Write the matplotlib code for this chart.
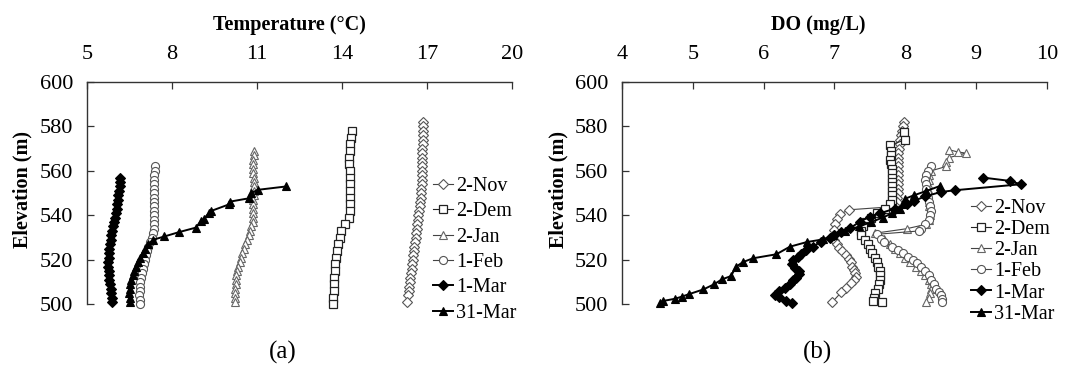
import matplotlib.pyplot as plt
from matplotlib.lines import Line2D

plt.rcParams['font.family'] = ['Liberation Serif', 'DejaVu Serif']

# ---- panel (a): temperature profiles (elevation m, temperature degC) ----
nov_t_elev = [582, 580, 578, 576, 574, 572, 570, 568, 566, 564, 562, 560, 558, 556,
              554, 552, 550, 548, 546, 544, 542, 540, 538, 536, 534, 532, 530, 528,
              526, 524, 522, 520, 518, 516, 514, 512, 510, 508, 506, 504, 501]
nov_temp = [16.88, 16.87, 16.86, 16.86, 16.85, 16.85, 16.84, 16.84, 16.84, 16.83, 16.83,
            16.83, 16.82, 16.82, 16.82, 16.81, 16.80, 16.79, 16.77, 16.75, 16.72, 16.70,
            16.68, 16.66, 16.64, 16.62, 16.60, 16.58, 16.56, 16.54, 16.52, 16.50, 16.48,
            16.46, 16.44, 16.42, 16.40, 16.38, 16.36, 16.34, 16.29]

dem_t_elev = [578, 575, 572, 569, 566, 563, 560, 557, 554, 551, 548, 545, 542, 539,
              536, 533, 530, 527, 524, 521, 518, 515, 512, 509, 506, 503, 500]
dem_temp = [14.35, 14.32, 14.29, 14.27, 14.25, 14.26, 14.28, 14.28, 14.28, 14.28, 14.30,
            14.30, 14.29, 14.25, 14.10, 13.98, 13.92, 13.87, 13.83, 13.80, 13.77, 13.75,
            13.73, 13.72, 13.71, 13.70, 13.70]

jan_t_elev = [569, 567, 565, 563, 561, 559, 557, 555, 553, 551, 549, 547, 545, 543,
              541, 539, 537, 535, 533, 531, 529, 527, 525, 523, 521, 519, 517, 515,
              513, 511, 509, 507, 505, 503, 501]
jan_temp = [10.88, 10.88, 10.87, 10.87, 10.87, 10.87, 10.88, 10.88, 10.88, 10.88, 10.88,
            10.87, 10.87, 10.86, 10.86, 10.85, 10.84, 10.80, 10.75, 10.70, 10.64, 10.58,
            10.53, 10.48, 10.43, 10.38, 10.34, 10.30, 10.27, 10.25, 10.24, 10.23, 10.22,
            10.22, 10.22]

feb_t_elev = [562, 560, 558, 556, 554, 552, 550, 548, 546, 544, 542, 540, 538, 536,
              534, 532, 530, 528, 526, 524, 522, 520, 518, 516, 514, 512, 510, 508,
              506, 504, 502, 500]
feb_temp = [7.39, 7.38, 7.37, 7.37, 7.36, 7.36, 7.36, 7.36, 7.36, 7.36, 7.36, 7.36,
            7.36, 7.36, 7.35, 7.33, 7.27, 7.20, 7.15, 7.11, 7.07, 7.03, 6.99, 6.96,
            6.93, 6.90, 6.88, 6.86, 6.85, 6.84, 6.85, 6.86]

mar1_t_elev = [557, 555, 553, 551, 549, 547, 545, 543, 541, 539, 537, 535, 533, 531,
               529, 527, 525, 523, 521, 519, 517, 515, 513, 511, 509, 507, 505, 503, 501]
mar1_temp = [6.17, 6.16, 6.14, 6.12, 6.10, 6.08, 6.06, 6.04, 6.01, 5.97, 5.93, 5.90,
             5.87, 5.84, 5.82, 5.80, 5.78, 5.76, 5.75, 5.74, 5.74, 5.75, 5.76, 5.78,
             5.80, 5.82, 5.84, 5.86, 5.88]

mar31_t_elev = [501, 503, 505, 507, 509, 511, 513, 515, 517, 519, 521, 523, 525, 527,
                529, 530.5, 532.5, 534.5, 537.5, 538.5, 541, 542, 545, 546.2, 547.7,
                550, 551.5, 553]
mar31_temp = [6.52, 6.50, 6.49, 6.50, 6.52, 6.55, 6.60, 6.65, 6.72, 6.80, 6.88, 6.96,
              7.05, 7.15, 7.32, 7.72, 8.25, 8.84, 9.02, 9.12, 9.30, 9.38, 10.02, 10.05,
              10.72, 10.78, 11.03, 12.02]

# ---- panel (b): dissolved oxygen profiles (elevation m, DO mg/L) ----
nov_do_elev = [582, 580, 578, 576, 574, 572, 570, 568, 566, 564, 562, 560, 558, 556,
               554, 552, 550, 548, 546, 544, 542.5, 540.5, 538.5, 536, 533.5, 531, 529,
               527, 525.5, 524, 522, 520.5, 519, 517, 515.5, 514, 512.5, 511, 509.5,
               507.5, 505.5, 501]
nov_do = [7.98, 7.97, 7.95, 7.94, 7.93, 7.92, 7.91, 7.90, 7.90, 7.90, 7.90, 7.90, 7.90,
          7.90, 7.90, 7.90, 7.90, 7.89, 7.88, 7.86, 7.20, 7.08, 7.03, 7.01, 7.00, 6.99,
          7.00, 7.03, 7.07, 7.11, 7.17, 7.21, 7.23, 7.25, 7.27, 7.29, 7.30, 7.28, 7.23,
          7.16, 7.10, 6.97]

dem_do_elev = [577.5, 574, 571.5, 569, 567, 565, 563, 561, 559, 557, 555, 553, 551, 549,
               547, 545, 543, 541, 539, 537, 535, 533, 531, 529, 527, 525, 523, 521,
               519, 517, 515, 513, 511, 509, 507, 505, 503, 501.5, 501]
dem_do = [7.98, 8.00, 7.78, 7.80, 7.80, 7.79, 7.80, 7.81, 7.81, 7.82, 7.82, 7.82, 7.82,
          7.82, 7.81, 7.79, 7.72, 7.60, 7.52, 7.45, 7.40, 7.38, 7.38, 7.43, 7.48, 7.50,
          7.53, 7.57, 7.60, 7.62, 7.64, 7.65, 7.64, 7.63, 7.61, 7.58, 7.56, 7.55, 7.67]

jan_do_elev = [569.5, 568.5, 568, 566, 564, 562, 560, 558, 556, 554, 552, 550, 548, 546,
               544, 542, 540, 538, 536, 534, 532, 529.5, 527, 525, 523, 521, 519, 517,
               515, 513, 511, 509, 507, 505, 503, 501]
jan_do = [8.62, 8.75, 8.86, 8.62, 8.58, 8.58, 8.36, 8.34, 8.33, 8.32, 8.32, 8.32, 8.33,
          8.33, 8.34, 8.35, 8.35, 8.33, 8.30, 8.02, 7.58, 7.70, 7.78, 7.85, 7.92, 8.00,
          8.07, 8.15, 8.22, 8.28, 8.33, 8.36, 8.36, 8.35, 8.33, 8.30]

feb_do_elev = [562, 560, 558, 556, 554, 552, 550, 548, 546, 544, 542, 540, 538, 536, 534,
               533, 531.5, 529.5, 528, 526, 524.5, 523, 521.5, 520, 518.5, 517, 515, 513,
               511, 509, 507, 505.5, 504, 502.5, 501]
feb_do = [8.36, 8.32, 8.29, 8.28, 8.29, 8.30, 8.31, 8.32, 8.33, 8.35, 8.36, 8.35, 8.33,
          8.28, 8.22, 8.20, 7.60, 7.66, 7.70, 7.82, 7.90, 7.97, 8.04, 8.11, 8.17, 8.22,
          8.28, 8.33, 8.36, 8.40, 8.44, 8.48, 8.50, 8.52, 8.52]

mar1_do_elev = [557, 555.5, 554, 551.3, 550.5, 548.5, 546.5, 545, 543, 541, 539.4, 537.2,
                534.2, 532.5, 531, 530, 528.2, 526, 524.5, 522.8, 521.4, 519.8, 518.2,
                516.5, 515, 513.5, 512, 510.8, 509, 507.3, 505.8, 504.2, 503.2, 501.5,
                500.7]
mar1_do = [9.10, 9.48, 9.63, 8.70, 8.50, 8.28, 8.12, 8.02, 7.85, 7.65, 7.50, 7.36, 7.22,
           7.10, 7.00, 6.94, 6.81, 6.70, 6.60, 6.53, 6.48, 6.42, 6.40, 6.45, 6.50, 6.50,
           6.46, 6.42, 6.37, 6.30, 6.22, 6.16, 6.22, 6.32, 6.40]

mar31_do_elev = [500.7, 501.5, 502.5, 503.5, 504.5, 506.7, 509, 511.2, 512.7, 516.9, 519,
                 520.7, 522.5, 525.9, 528, 529.2, 531, 533, 535, 537, 539, 541, 543, 545,
                 547.5, 549, 551, 553.2]
mar31_do = [4.54, 4.58, 4.75, 4.85, 4.94, 5.15, 5.30, 5.41, 5.54, 5.61, 5.71, 5.85, 6.18,
            6.37, 6.61, 6.84, 6.98, 7.15, 7.35, 7.52, 7.68, 7.82, 7.92, 7.97, 8.00, 8.12,
            8.30, 8.49]

labels = ['2-Nov', '2-Dem', '2-Jan', '1-Feb', '1-Mar', '31-Mar']
styles = [
    dict(marker='D', ms=5.4, mfc='white', mec='#555555', color='#444444', lw=0.8, mew=0.8),
    dict(marker='s', ms=5.2, mfc='white', mec='#222222', color='#222222', lw=0.8, mew=0.9),
    dict(marker='^', ms=5.4, mfc='white', mec='#666666', color='#444444', lw=0.8, mew=0.8),
    dict(marker='o', ms=5.8, mfc='white', mec='#555555', color='#444444', lw=0.8, mew=0.8),
    dict(marker='D', ms=5.2, mfc='black', mec='black', color='black', lw=1.4, mew=0.8),
    dict(marker='^', ms=5.6, mfc='black', mec='black', color='black', lw=1.4, mew=0.8),
]

temp_series = [(nov_temp, nov_t_elev), (dem_temp, dem_t_elev), (jan_temp, jan_t_elev),
               (feb_temp, feb_t_elev), (mar1_temp, mar1_t_elev), (mar31_temp, mar31_t_elev)]
do_series = [(nov_do, nov_do_elev), (dem_do, dem_do_elev), (jan_do, jan_do_elev),
             (feb_do, feb_do_elev), (mar1_do, mar1_do_elev), (mar31_do, mar31_do_elev)]

W, H = 1067, 370
fig = plt.figure(figsize=(W / 100, H / 100), dpi=100)
ax_a = fig.add_axes([87.3 / W, 1 - 304.3 / H, 424.4 / W, 222.3 / H])
ax_b = fig.add_axes([622.0 / W, 1 - 304.3 / H, 424.8 / W, 222.3 / H])


def style_axis(ax, xlim, xticks):
    ax.set_xlim(*xlim)
    ax.set_ylim(500, 600)
    ax.set_xticks(xticks)
    ax.set_yticks(range(500, 601, 20))
    ax.xaxis.tick_top()
    ax.tick_params(axis='both', direction='in', length=5, width=0.9, labelsize=16,
                   color='#333333')
    ax.tick_params(axis='x', pad=13)
    ax.tick_params(axis='y', pad=10)
    for side in ('right', 'bottom'):
        ax.spines[side].set_visible(False)
    for side in ('left', 'top'):
        ax.spines[side].set_linewidth(1.0)
        ax.spines[side].set_color('#333333')


style_axis(ax_a, (5, 20), [5, 8, 11, 14, 17, 20])
style_axis(ax_b, (4, 10), [4, 5, 6, 7, 8, 9, 10])

for (x, y), st in zip(temp_series, styles):
    ax_a.plot(x, y, clip_on=False, **st)
for (x, y), st in zip(do_series, styles):
    ax_b.plot(x, y, clip_on=False, **st)

handles = [Line2D([], [], **st) for st in styles]
fig.legend(handles, labels, loc='upper left', bbox_to_anchor=(433 / W, 1 - 177 / H),
           frameon=False, fontsize=14.5, handlelength=1.0, handletextpad=0.15,
           labelspacing=0.31, borderpad=0, borderaxespad=0)
fig.legend(handles, labels, loc='upper left', bbox_to_anchor=(971 / W, 1 - 199 / H),
           frameon=False, fontsize=14.5, handlelength=1.0, handletextpad=0.15,
           labelspacing=0.1, borderpad=0, borderaxespad=0)

fig.text(289 / W, 1 - 25 / H, 'Temperature (°C)', ha='center', va='center',
         fontsize=14.5, fontweight='bold')
fig.text(818 / W, 1 - 25 / H, 'DO (mg/L)', ha='center', va='center',
         fontsize=14.5, fontweight='bold')
fig.text(22 / W, 1 - 189 / H, 'Elevation (m)', ha='center', va='center',
         rotation=90, fontsize=14.5, fontweight='bold')
fig.text(558 / W, 1 - 189 / H, 'Elevation (m)', ha='center', va='center',
         rotation=90, fontsize=14.5, fontweight='bold')
fig.text(283 / W, 1 - 352 / H, '(a)', ha='center', va='center', fontsize=18)
fig.text(818 / W, 1 - 352 / H, '(b)', ha='center', va='center', fontsize=18)

fig.savefig('out.png', dpi=100)
